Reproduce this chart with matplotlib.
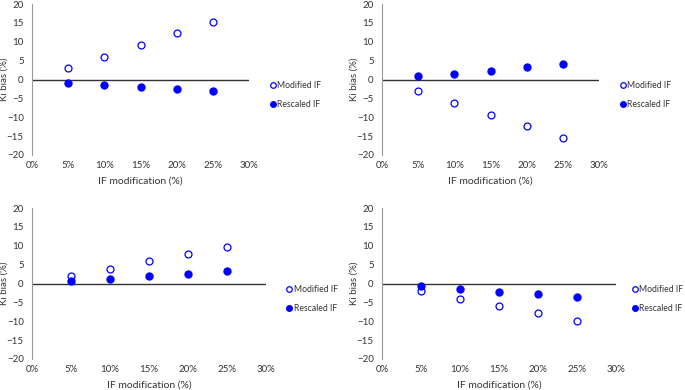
import matplotlib
matplotlib.use("Agg")
import matplotlib.pyplot as plt
from matplotlib.ticker import FuncFormatter

plt.rcParams["font.family"] = ["Lato", "DejaVu Sans"]

x_mod = [0.05, 0.10, 0.15, 0.20, 0.25]

# panel values (Ki bias %)
p1_modified = [3.0, 6.0, 9.2, 12.3, 15.3]
p1_rescaled = [-1.0, -1.4, -2.0, -2.6, -3.1]
p2_modified = [-3.1, -6.2, -9.3, -12.4, -15.5]
p2_rescaled = [0.9, 1.4, 2.2, 3.2, 4.2]
p3_modified = [2.0, 3.9, 5.9, 7.8, 9.8]
p3_rescaled = [0.6, 1.3, 2.0, 2.6, 3.3]
p4_modified = [-2.0, -4.0, -6.0, -7.9, -9.9]
p4_rescaled = [-0.7, -1.4, -2.2, -2.9, -3.7]

# (modified, rescaled, axes rect, legend x, ylabel x)
panels = [
    (p1_modified, p1_rescaled, [0.0467, 0.6026, 0.317, 0.387], 1.100, -0.108),
    (p2_modified, p2_rescaled, [0.5577, 0.6026, 0.317, 0.387], 1.100, -0.108),
    (p3_modified, p3_rescaled, [0.0467, 0.0795, 0.3416, 0.387], 1.093, -0.100),
    (p4_modified, p4_rescaled, [0.5577, 0.0795, 0.3416, 0.387], 1.072, -0.100),
]

BLUE = "#0000FF"
TXT = "#333333"

fig = plt.figure(figsize=(6.85, 3.9), dpi=100)

for mod, res, rect, lx, ylx in panels:
    ax = fig.add_axes(rect)
    ax.plot(x_mod, mod, "o", mfc="white", mec=BLUE, mew=0.9, ms=5,
            label="Modified IF", clip_on=False)
    ax.plot(x_mod, res, "o", color=BLUE, ms=5, label="Rescaled IF",
            clip_on=False)
    ax.axhline(0, color="#333333", lw=1.0, zorder=0)
    ax.set_xlim(0, 0.30)
    ax.set_ylim(-20, 20)
    ax.set_yticks(range(-20, 25, 5))
    ax.set_xticks([0, 0.05, 0.10, 0.15, 0.20, 0.25, 0.30])
    ax.xaxis.set_major_formatter(FuncFormatter(lambda v, p: f"{v*100:.0f}%"))
    for s in ["top", "right", "bottom"]:
        ax.spines[s].set_visible(False)
    ax.spines["left"].set_color("#999999")
    ax.tick_params(length=0, labelsize=7, colors=TXT)
    ax.tick_params(axis="y", pad=6)
    ax.tick_params(axis="x", pad=4)
    ax.set_xlabel("IF modification (%)", fontsize=7.5, color=TXT, labelpad=5)
    ax.set_ylabel("Ki bias (%)", fontsize=7, color=TXT)
    ax.yaxis.set_label_coords(ylx, 0.5)
    ax.legend(loc="center left", bbox_to_anchor=(lx, 0.40), frameon=False,
              fontsize=6.2, handlelength=0.4, handletextpad=0.3, labelspacing=1.15,
              markerscale=0.8, borderpad=0, borderaxespad=0, labelcolor=TXT)

fig.savefig("out.png", dpi=100)
